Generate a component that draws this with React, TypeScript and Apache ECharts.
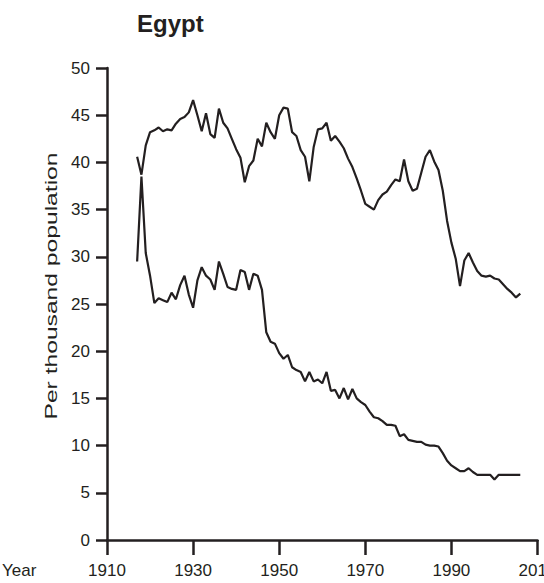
import React, { useEffect, useRef } from "react";
import * as echarts from "echarts";

const startYear = 1917;
const birthRate = [
  40.6, 38.7, 41.8, 43.2, 43.4, 43.7, 43.3, 43.5, 43.4, 44.1,
  44.6, 44.8, 45.3, 46.6, 45.0, 43.3, 45.2, 43.0, 42.6, 45.7,
  44.2, 43.6, 42.5, 41.4, 40.5, 37.9, 39.6, 40.2, 42.5, 41.7,
  44.2, 43.2, 42.5, 45.0, 45.8, 45.7, 43.2, 42.8, 41.3, 40.6,
  38.0, 41.6, 43.5, 43.6, 44.2, 42.3, 42.8, 42.2, 41.5, 40.4,
  39.5, 38.3, 37.0, 35.6, 35.3, 35.0, 36.0, 36.6, 36.9, 37.6,
  38.2, 38.0, 40.3, 38.0, 37.0, 37.2, 38.9, 40.6, 41.3, 40.1,
  39.2, 37.0, 33.8, 31.5, 29.8, 26.9, 29.6, 30.4, 29.4, 28.5,
  28.0, 27.9, 28.0, 27.7, 27.6, 27.1, 26.6, 26.2, 25.7, 26.1,
];
const deathRate = [
  29.5, 38.5, 30.4, 28.0, 25.1, 25.6, 25.4, 25.2, 26.2, 25.5,
  27.0, 28.0, 26.0, 24.6, 27.5, 28.9, 28.0, 27.6, 26.5, 29.5,
  28.2, 26.8, 26.6, 26.5, 28.6, 28.4, 26.5, 28.2, 28.0, 26.5,
  22.0, 21.0, 20.8, 19.8, 19.2, 19.6, 18.3, 18.0, 17.8, 16.8,
  17.8, 16.8, 17.0, 16.6, 17.8, 15.8, 15.9, 15.0, 16.1, 14.9,
  16.0, 15.0, 14.6, 14.3, 13.6, 13.0, 12.9, 12.6, 12.2, 12.2,
  12.1, 11.0, 11.2, 10.6, 10.5, 10.4, 10.4, 10.1, 10.0, 10.0,
  9.9, 9.2, 8.4, 7.9, 7.6, 7.3, 7.3, 7.6, 7.2, 6.9,
  6.9, 6.9, 6.9, 6.4, 6.9, 6.9, 6.9, 6.9, 6.9, 6.9,
];
const titleText = "Egypt";
const yAxisTitle = "Per thousand population";
const xAxisTitle = "Year";

const INK = "#231f20";
const FONT = "'Liberation Sans', Arial, sans-serif";

export default function App() {
  const ref = useRef<HTMLDivElement>(null);
  useEffect(() => {
    if (!ref.current) return;
    const chart = echarts.init(ref.current, null, { renderer: "svg" });
    const toPairs = (arr: number[]) => arr.map((v, i) => [startYear + i, v]);
    chart.setOption({
      animation: false,
      backgroundColor: "#ffffff",
      grid: {
        left: 107,
        right: 6.5,
        top: 68,
        bottom: 43,
        containLabel: false,
        outerBoundsMode: "none",
      },
      xAxis: {
        type: "value",
        min: 1910,
        max: 2010,
        interval: 20,
        axisLine: { show: true, lineStyle: { color: INK, width: 2.5 } },
        axisTick: { show: true, length: 15, lineStyle: { color: INK, width: 2.5 } },
        axisLabel: {
          color: INK,
          fontSize: 17,
          fontFamily: FONT,
          margin: 22,
          showMaxLabel: true,
          hideOverlap: false,
          formatter: (v: number) => String(v),
        },
        splitLine: { show: false },
      },
      yAxis: {
        type: "value",
        min: 0,
        max: 50,
        interval: 5,
        axisLine: { show: true, lineStyle: { color: INK, width: 2.5 } },
        axisTick: { show: true, length: 11, lineStyle: { color: INK, width: 2.5 } },
        axisLabel: { color: INK, fontSize: 17, fontFamily: FONT, margin: 17 },
        splitLine: { show: false },
      },
      graphic: [
        {
          type: "text",
          left: 137,
          top: 11,
          style: { text: titleText, fill: INK, font: "bold 24px " + FONT },
        },
        {
          type: "text",
          x: 51,
          y: 286,
          rotation: Math.PI / 2,
          scaleX: 1.45,
          style: {
            text: yAxisTitle,
            fill: INK,
            font: "17px " + FONT,
            align: "center",
            verticalAlign: "middle",
          },
        },
        {
          type: "text",
          left: 2,
          top: 562,
          style: { text: xAxisTitle, fill: INK, font: "17px " + FONT },
        },
      ],
      series: [
        {
          name: "Birth rate",
          type: "line",
          data: toPairs(birthRate),
          symbol: "none",
          lineStyle: { color: INK, width: 2.2 },
        },
        {
          name: "Death rate",
          type: "line",
          data: toPairs(deathRate),
          symbol: "none",
          lineStyle: { color: INK, width: 2.2 },
        },
      ],
    });
    return () => chart.dispose();
  }, []);
  return (
    <div
      ref={ref}
      style={{ position: "fixed", left: 0, top: 0, width: 544, height: 583, background: "#fff" }}
    />
  );
}
